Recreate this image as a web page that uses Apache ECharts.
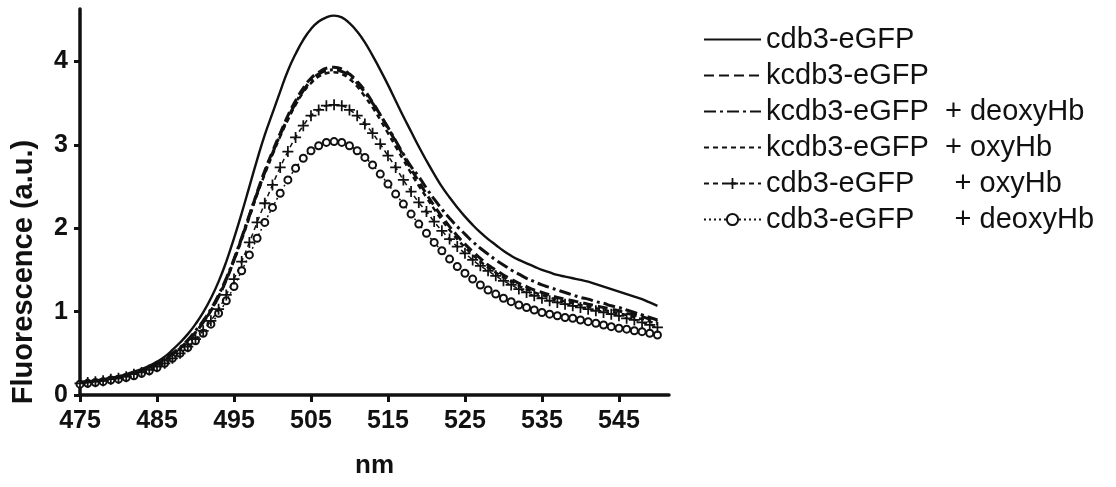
<!DOCTYPE html>
<html>
<head>
<meta charset="utf-8">
<script src="https://cdn.jsdelivr.net/npm/echarts@6/dist/echarts.min.js"></script>
<style>
  html, body { margin: 0; padding: 0; background: #fff; }
  #chart { width: 1116px; height: 487px; }
</style>
</head>
<body>
<div id="chart"></div>
<script>
// wavelength, 1 nm steps
const nm = [];
for (let w = 475; w <= 550; w++) nm.push(w);

const xTicks = [475, 485, 495, 505, 515, 525, 535, 545];
const yTicks = [0, 1, 2, 3, 4];

const names = [
  'cdb3-eGFP',
  'kcdb3-eGFP',
  'kcdb3-eGFP  + deoxyHb',
  'kcdb3-eGFP  + oxyHb',
  'cdb3-eGFP     + oxyHb',
  'cdb3-eGFP     + deoxyHb'
];

const cdb3 = [
  0.15, 0.16, 0.17, 0.19, 0.20, 0.22, 0.25, 0.28, 0.31, 0.35,
  0.40, 0.46, 0.54, 0.63, 0.73, 0.85, 0.99, 1.16, 1.36, 1.60,
  1.88, 2.18, 2.50, 2.82, 3.12, 3.38, 3.64, 3.89, 4.09, 4.26,
  4.39, 4.48, 4.53, 4.55, 4.53, 4.46, 4.36, 4.23, 4.07, 3.90,
  3.72, 3.53, 3.34, 3.16, 2.98, 2.81, 2.65, 2.50, 2.37, 2.25,
  2.14, 2.04, 1.95, 1.87, 1.80, 1.73, 1.67, 1.62, 1.58, 1.54,
  1.50, 1.47, 1.44, 1.42, 1.40, 1.38, 1.36, 1.33, 1.30, 1.27,
  1.24, 1.21, 1.18, 1.15, 1.11, 1.07
];

const kcdb3 = [
  0.15, 0.16, 0.17, 0.18, 0.20, 0.22, 0.24, 0.27, 0.30, 0.33,
  0.37, 0.42, 0.49, 0.56, 0.65, 0.75, 0.87, 1.01, 1.18, 1.38,
  1.62, 1.88, 2.15, 2.43, 2.69, 2.92, 3.14, 3.35, 3.53, 3.68,
  3.80, 3.87, 3.92, 3.93, 3.91, 3.85, 3.76, 3.65, 3.51, 3.36,
  3.20, 3.04, 2.87, 2.71, 2.56, 2.41, 2.27, 2.14, 2.02, 1.91,
  1.81, 1.72, 1.64, 1.56, 1.50, 1.44, 1.39, 1.34, 1.30, 1.26,
  1.23, 1.20, 1.17, 1.15, 1.13, 1.11, 1.09, 1.07, 1.05, 1.03,
  1.01, 0.98, 0.96, 0.94, 0.91, 0.88
];

const kcdb3Deoxy = [
  0.15, 0.16, 0.17, 0.18, 0.20, 0.22, 0.24, 0.27, 0.30, 0.34,
  0.38, 0.43, 0.50, 0.57, 0.66, 0.77, 0.89, 1.03, 1.20, 1.40,
  1.63, 1.89, 2.16, 2.42, 2.67, 2.90, 3.12, 3.32, 3.50, 3.65,
  3.77, 3.85, 3.89, 3.90, 3.88, 3.83, 3.74, 3.63, 3.50, 3.36,
  3.21, 3.05, 2.89, 2.74, 2.62, 2.48, 2.35, 2.23, 2.12, 2.02,
  1.93, 1.84, 1.76, 1.69, 1.62, 1.56, 1.50, 1.45, 1.40, 1.36,
  1.32, 1.29, 1.26, 1.23, 1.20, 1.17, 1.15, 1.12, 1.10, 1.07,
  1.05, 1.02, 0.99, 0.96, 0.93, 0.90
];

const kcdb3Oxy = [
  0.15, 0.16, 0.17, 0.18, 0.20, 0.22, 0.24, 0.27, 0.30, 0.33,
  0.37, 0.42, 0.49, 0.56, 0.65, 0.75, 0.87, 1.01, 1.18, 1.38,
  1.61, 1.86, 2.13, 2.40, 2.65, 2.88, 3.10, 3.30, 3.48, 3.63,
  3.74, 3.82, 3.86, 3.87, 3.85, 3.79, 3.70, 3.58, 3.45, 3.30,
  3.14, 2.98, 2.82, 2.66, 2.51, 2.37, 2.23, 2.10, 1.98, 1.87,
  1.77, 1.68, 1.60, 1.53, 1.47, 1.41, 1.36, 1.31, 1.27, 1.23,
  1.20, 1.17, 1.14, 1.12, 1.10, 1.08, 1.06, 1.04, 1.02, 1.00,
  0.98, 0.96, 0.93, 0.91, 0.88, 0.85
];

const cdb3Oxy = [
  0.14, 0.15, 0.16, 0.17, 0.19, 0.20, 0.22, 0.25, 0.27, 0.30,
  0.34, 0.38, 0.44, 0.50, 0.58, 0.67, 0.77, 0.89, 1.03, 1.20,
  1.39, 1.60, 1.83, 2.07, 2.30, 2.52, 2.73, 2.92, 3.09, 3.23,
  3.35, 3.42, 3.47, 3.48, 3.47, 3.42, 3.35, 3.25, 3.14, 3.01,
  2.87, 2.73, 2.58, 2.44, 2.31, 2.20, 2.08, 1.97, 1.87, 1.78,
  1.70, 1.62, 1.55, 1.49, 1.43, 1.37, 1.32, 1.27, 1.23, 1.19,
  1.16, 1.13, 1.11, 1.09, 1.07, 1.05, 1.03, 1.01, 0.99, 0.97,
  0.95, 0.92, 0.90, 0.87, 0.84, 0.81
];

const cdb3Deoxy = [
  0.13, 0.14, 0.15, 0.16, 0.18, 0.19, 0.21, 0.23, 0.26, 0.29,
  0.33, 0.38, 0.44, 0.50, 0.57, 0.65, 0.74, 0.85, 0.98, 1.13,
  1.30, 1.49, 1.68, 1.88, 2.07, 2.25, 2.42, 2.58, 2.72, 2.84,
  2.93, 2.99, 3.03, 3.04, 3.03, 2.99, 2.93, 2.85, 2.76, 2.65,
  2.53, 2.41, 2.29, 2.17, 2.05, 1.94, 1.83, 1.73, 1.63, 1.54,
  1.46, 1.39, 1.32, 1.26, 1.21, 1.16, 1.12, 1.08, 1.05, 1.02,
  0.99, 0.97, 0.95, 0.93, 0.92, 0.90, 0.88, 0.86, 0.84, 0.82,
  0.80, 0.79, 0.77, 0.76, 0.74, 0.72
];

const pair = arr => nm.map((w, i) => [w, arr[i]]);
const font = "'Liberation Sans', Arial, sans-serif";
const plus = 'path://M4.2,0H5.8V4.2H10V5.8H5.8V10H4.2V5.8H0V4.2H4.2Z';

function lineSeries(name, arr, dash, width, extra) {
  return Object.assign({
    name: name,
    type: 'line',
    data: pair(arr),
    symbol: 'none',
    smooth: true,
    color: '#111',
    lineStyle: { color: '#111', width: width, type: dash },
    emphasis: { disabled: true }
  }, extra || {});
}

// lines without markers get no dot in the legend
const legendData = names.map((n, i) => i < 4
  ? { name: n, itemStyle: { opacity: 0, color: 'rgba(0,0,0,0)', borderWidth: 0 } }
  : { name: n });

const chart = echarts.init(document.getElementById('chart'));
chart.setOption({
  animation: false,
  backgroundColor: '#fff',
  grid: { left: 80, right: 447, top: 9, bottom: 92 },
  xAxis: {
    type: 'value',
    min: 475,
    max: 551.5,
    interval: 10,
    name: 'nm',
    nameLocation: 'middle',
    nameGap: 58,
    nameTextStyle: { fontFamily: font, fontWeight: 'bold', fontSize: 26, color: '#111' },
    axisLine: { lineStyle: { color: '#111', width: 3.5 } },
    axisTick: { customValues: xTicks, length: 7, lineStyle: { color: '#111', width: 3 } },
    axisLabel: { customValues: xTicks, margin: 14, fontFamily: font, fontWeight: 'bold', fontSize: 25, color: '#111' },
    splitLine: { show: false }
  },
  yAxis: {
    type: 'value',
    min: 0,
    max: 4.63,
    interval: 1,
    axisLine: { show: true, lineStyle: { color: '#111', width: 3.5 } },
    axisTick: { show: true, customValues: yTicks, length: 6, lineStyle: { color: '#111', width: 3 } },
    axisLabel: { customValues: yTicks, margin: 12, fontFamily: font, fontWeight: 'bold', fontSize: 25, color: '#111' },
    splitLine: { show: false }
  },
  graphic: [{
    type: 'text',
    x: 24,
    y: 272,
    rotation: Math.PI / 2,
    style: {
      text: 'Fluorescence (a.u.)',
      fontFamily: font,
      fontWeight: 'bold',
      fontSize: 29,
      fill: '#111',
      textAlign: 'center',
      textVerticalAlign: 'middle'
    }
  }],
  legend: {
    orient: 'vertical',
    left: 698,
    top: 20,
    itemWidth: 57,
    itemHeight: 14,
    itemGap: 7,
    selectedMode: false,
    data: legendData,
    textStyle: { fontFamily: font, fontSize: 29, color: '#111' }
  },
  series: [
    lineSeries(names[0], cdb3, 'solid', 2.4, { z: 6 }),
    lineSeries(names[1], kcdb3, [10, 5], 3, { z: 5 }),
    lineSeries(names[2], kcdb3Deoxy, [12, 4, 3, 4], 3, { z: 4 }),
    lineSeries(names[3], kcdb3Oxy, [5, 4], 2.5, { z: 3 }),
    lineSeries(names[4], cdb3Oxy, [5, 4], 1.5, {
      z: 2,
      symbol: plus,
      symbolSize: 11,
      showSymbol: true,
      itemStyle: { color: '#111' }
    }),
    lineSeries(names[5], cdb3Deoxy, [2, 3], 1.5, {
      z: 1,
      symbol: 'emptyCircle',
      symbolSize: 7,
      showSymbol: true,
      itemStyle: { color: '#111', borderWidth: 1.5 }
    })
  ]
});
</script>
</body>
</html>
